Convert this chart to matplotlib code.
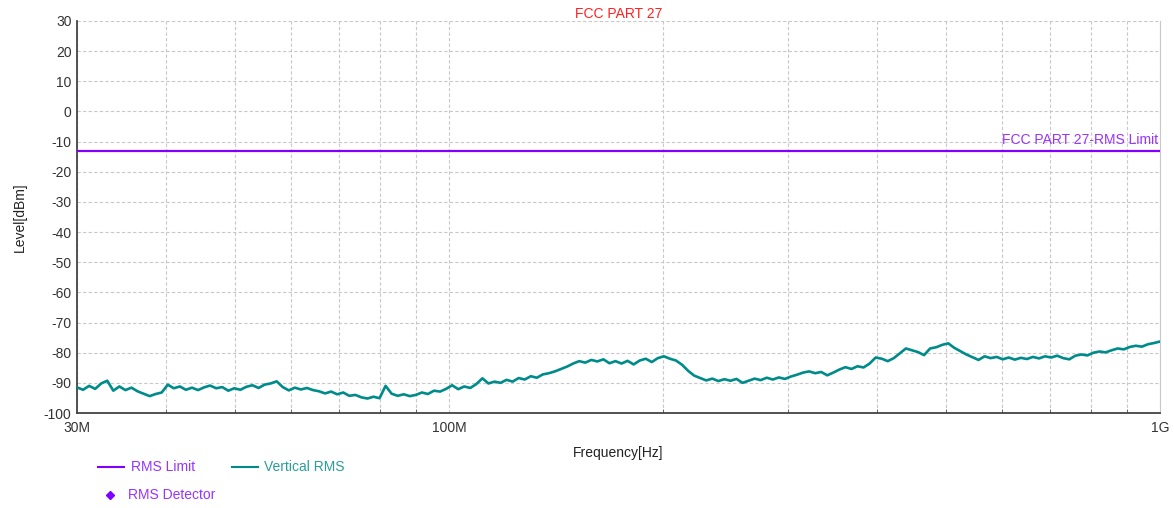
import numpy as np
import matplotlib.pyplot as plt
from matplotlib.lines import Line2D
from matplotlib.ticker import FixedLocator, NullFormatter

plt.rcParams['font.family'] = ['Liberation Sans', 'DejaVu Sans']
plt.rcParams['axes.unicode_minus'] = False

# sweep 30 MHz .. 1 GHz, levels (dBm)
f_start, f_stop = 30e6, 1e9
level = [
    -91.5, -92.3, -91.0, -92.0, -90.2, -89.3, -92.6, -91.2, -92.4, -91.6,
    -92.8, -93.6, -94.4, -93.7, -93.2, -90.6, -91.8, -91.2, -92.3, -91.6,
    -92.4, -91.5, -90.9, -91.8, -91.4, -92.6, -91.8, -92.3, -91.3, -90.8,
    -91.7, -90.6, -90.2, -89.5, -91.4, -92.5, -91.6, -92.2, -91.7, -92.4,
    -92.8, -93.5, -92.9, -93.8, -93.2, -94.3, -94.0, -94.8, -95.2, -94.6,
    -95.1, -91.0, -93.6, -94.3, -93.8, -94.4, -94.0, -93.2, -93.7, -92.6,
    -92.9, -92.0, -90.8, -92.1, -91.2, -91.7, -90.4, -88.5, -90.2, -89.6,
    -90.0, -89.0, -89.6, -88.4, -88.9, -87.8, -88.3, -87.2, -86.8, -86.2,
    -85.4, -84.6, -83.6, -82.8, -83.3, -82.4, -82.9, -82.2, -83.5, -82.8,
    -83.6, -82.7, -83.9, -82.6, -82.0, -83.1, -81.8, -81.2, -82.0, -82.6,
    -84.0, -86.0, -87.6, -88.4, -89.2, -88.6, -89.4, -88.8, -89.3, -88.7,
    -90.0, -89.3, -88.6, -89.1, -88.3, -88.9, -88.2, -88.7, -87.9, -87.3,
    -86.6, -86.2, -86.8, -86.4, -87.5, -86.6, -85.6, -84.8, -85.4, -84.5,
    -84.9, -83.6, -81.6, -82.0, -82.8, -81.8, -80.2, -78.6, -79.2, -79.8,
    -80.8, -78.6, -78.2, -77.4, -76.9, -78.4, -79.5, -80.6, -81.5, -82.4,
    -81.2, -81.8, -81.4, -82.2, -81.6, -82.3, -81.7, -82.1, -81.4, -81.9,
    -81.2, -81.6, -81.0, -81.8, -82.2, -81.0, -80.6, -80.9, -80.0, -79.6,
    -79.9, -79.2, -78.6, -78.9, -78.1, -77.7, -78.0, -77.2, -76.8, -76.3,
]
limit_level = -13.0
y_ticks = [30, 20, 10, 0, -10, -20, -30, -40, -50, -60, -70, -80, -90, -100]
x_labels = {30e6: '30M', 100e6: '100M', 1e9: '1G'}

freq = np.geomspace(f_start, f_stop, len(level))

purple = '#7f00ff'
teal = '#008b8b'
txt = '#333333'

fig = plt.figure(figsize=(11.74, 5.08), dpi=100)
ax = fig.add_axes([0.0656, 0.187, 0.9225, 0.7717])

ax.plot([f_start, f_stop], [limit_level, limit_level], color=purple, lw=1.6, zorder=3)
ax.plot(freq, level, color=teal, lw=1.9, zorder=4)

ax.set_xscale('log')
ax.set_xlim(f_start, f_stop)
ax.set_ylim(-100, 30)
ax.set_yticks(y_ticks)
ax.set_xticks(list(x_labels.keys()))
ax.set_xticklabels(list(x_labels.values()))
minor = [m * d for d in (1e7, 1e8) for m in range(2, 10) if f_start < m * d < f_stop]
ax.xaxis.set_minor_locator(FixedLocator(minor))
ax.xaxis.set_minor_formatter(NullFormatter())

ax.grid(True, which='both', axis='x', color='#c8c8c8', ls=(0, (3, 2)), lw=0.8)
ax.grid(True, which='major', axis='y', color='#c8c8c8', ls=(0, (3, 2)), lw=0.8)
ax.tick_params(axis='y', length=0, labelsize=10, labelcolor=txt, pad=4)
ax.tick_params(axis='x', which='major', length=0, labelsize=10, labelcolor=txt, pad=6)
ax.tick_params(axis='x', which='minor', length=3, color='#555555', direction='in')

ax.spines['top'].set_visible(False)
ax.spines['right'].set_color('#c8c8c8')
ax.spines['left'].set_color('#444444')
ax.spines['bottom'].set_color('#444444')
ax.spines['left'].set_linewidth(1.3)
ax.spines['bottom'].set_linewidth(1.3)

ax.set_title('FCC PART 27', color='#ff2020', fontsize=10, pad=1)
ax.set_xlabel('Frequency[Hz]', fontsize=10, color='#222222', labelpad=8)
ax.set_ylabel('Level[dBm]', fontsize=10, color='#222222', labelpad=12)

ax.text(0.998, limit_level + 1.2, 'FCC PART 27-RMS Limit', color='#9933ff',
        fontsize=10, ha='right', va='bottom', transform=ax.get_yaxis_transform())

# legend drawn below the axes
fig.add_artist(Line2D([98 / 1174, 124 / 1174], [1 - 467 / 508] * 2, color=purple, lw=1.5))
fig.text(131 / 1174, 1 - 467 / 508, 'RMS Limit', color='#9933ff', fontsize=10, va='center')
fig.add_artist(Line2D([232 / 1174, 258 / 1174], [1 - 467 / 508] * 2, color=teal, lw=1.5))
fig.text(264 / 1174, 1 - 467 / 508, 'Vertical RMS', color='#2a9d9d', fontsize=10, va='center')
fig.add_artist(Line2D([110 / 1174], [1 - 495 / 508], color=purple, marker='D',
                      markersize=4, lw=0))
fig.text(128 / 1174, 1 - 495 / 508, 'RMS Detector', color='#9933ff', fontsize=10, va='center')

fig.savefig('out.png', dpi=100)
